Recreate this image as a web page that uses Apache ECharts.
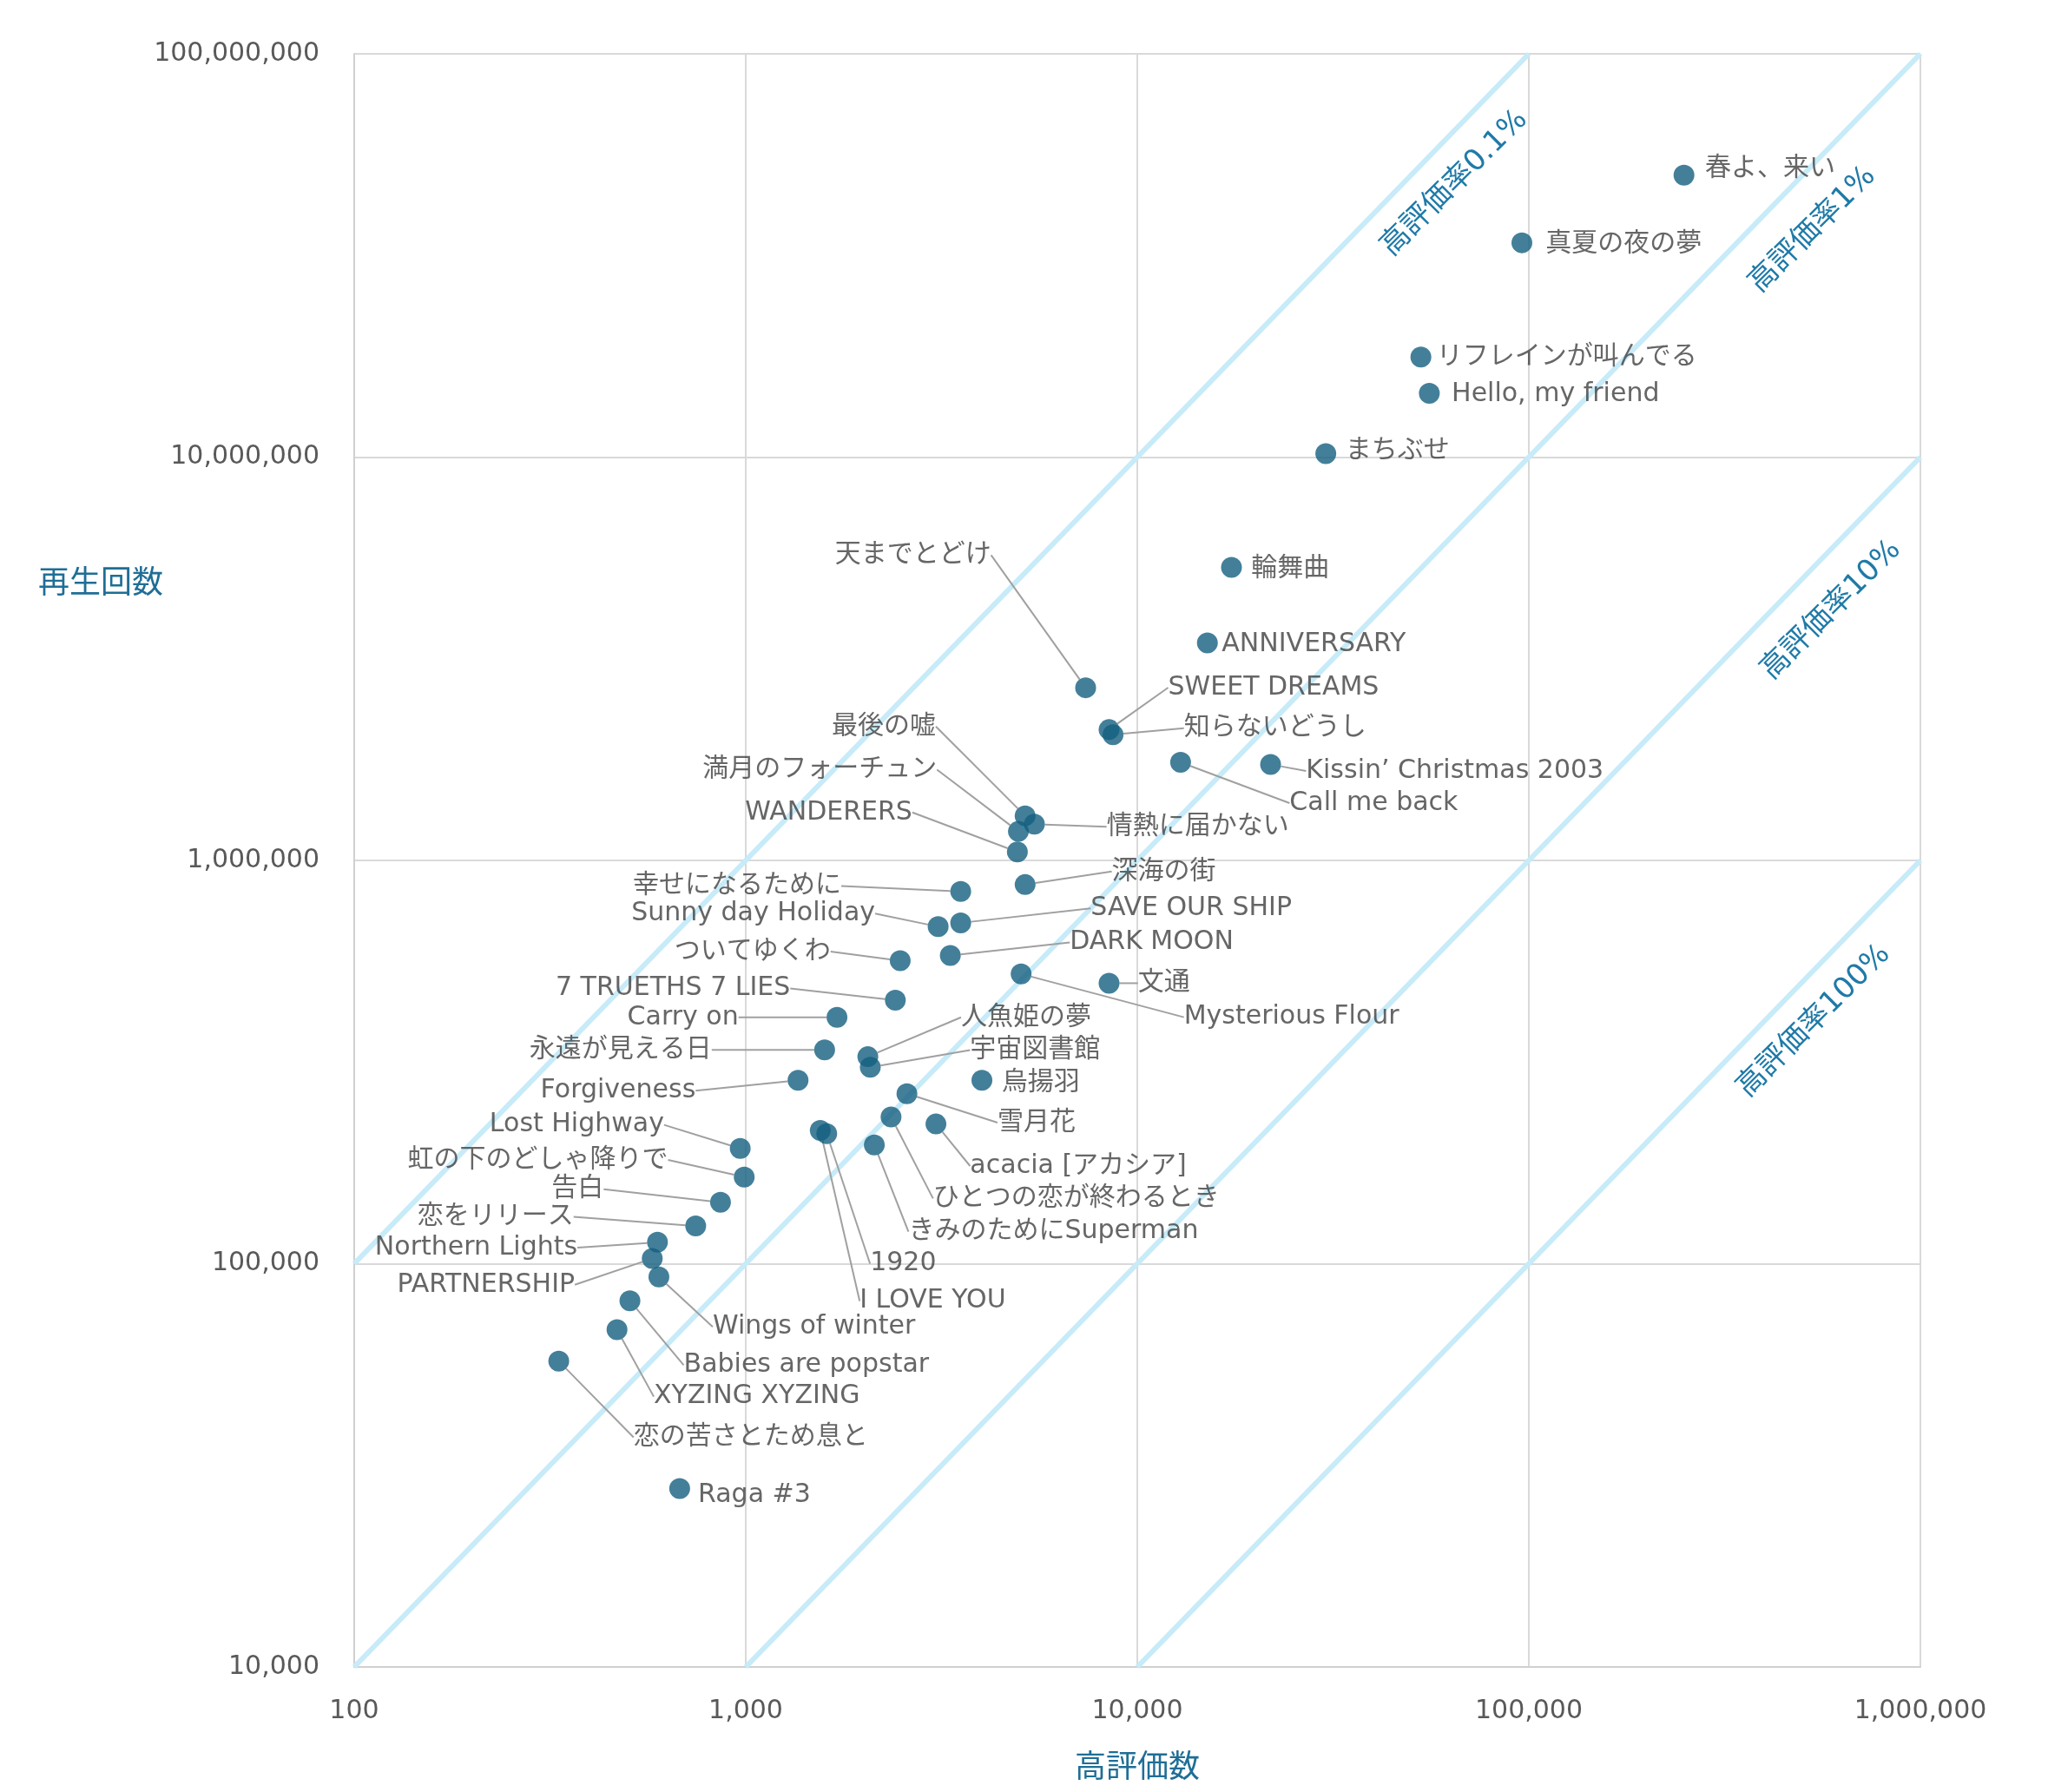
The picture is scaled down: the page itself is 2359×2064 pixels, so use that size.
<!DOCTYPE html>
<html><head><meta charset="utf-8">
<script src="https://cdn.jsdelivr.net/npm/echarts@6/dist/echarts.min.js"></script>
<style>html,body{margin:0;padding:0;background:#fff}#c{width:2359px;height:2064px}</style>
</head><body><div id="c"></div>
<script>
const songs = ["春よ、来い","真夏の夜の夢","リフレインが叫んでる","Hello, my friend","まちぶせ","輪舞曲","ANNIVERSARY","天までとどけ","SWEET DREAMS","知らないどうし","Call me back","Kissin’ Christmas 2003","最後の嘘","満月のフォーチュン","WANDERERS","情熱に届かない","深海の街","幸せになるために","SAVE OUR SHIP","Sunny day Holiday","ついてゆくわ","DARK MOON","Mysterious Flour","文通","7 TRUETHS 7 LIES","Carry on","人魚姫の夢","宇宙図書館","永遠が見える日","Forgiveness","烏揚羽","雪月花","acacia [アカシア]","ひとつの恋が終わるとき","きみのためにSuperman","1920","I LOVE YOU","Lost Highway","虹の下のどしゃ降りで","告白","恋をリリース","Northern Lights","PARTNERSHIP","Wings of winter","Babies are popstar","XYZING XYZING","恋の苦さとため息と","Raga #3"];
const likes = [249000,96000,53000,55700,30300,17400,15100,7380,8470,8670,12900,21900,5170,4970,4940,5460,5170,3540,3540,3100,2480,3330,5050,8470,2410,1710,2050,2080,1590,1360,4010,2580,3060,2350,2130,1610,1550,968,991,862,745,595,577,600,506,469,333,678];
const plays = [50000000,34000000,17700000,14400000,10200000,5330000,3460000,2680000,2110000,2050000,1750000,1730000,1290000,1180000,1050000,1230000,871000,838000,700000,685000,564000,581000,523000,496000,450000,408000,326000,307000,339000,285000,285000,264000,222000,231000,197000,210000,214000,193000,164000,142000,124000,113000,103000,92700,80900,68600,57300,27700];
const rateNames = ["高評価率0.1%","高評価率1%","高評価率10%","高評価率100%"];
const rateLines = [[[100,1e5],[1e5,1e8]],[[100,1e4],[1e6,1e8]],[[1000,1e4],[1e6,1e7]],[[1e4,1e4],[1e6,1e6]]];
const rateLabelAt = [[64600,47700000],[531000,36600000],[592000,4170000],[535000,399000]];
// label offsets (display px, later scaled) [dx, dy, align, line]
const labelOff = [[16,-5,'left',0],[18,1,'left',0],[12,0,'left',0],[17,1,'left',0],[15,-2,'left',0],[15,1,'left',0],[11,1,'left',0],
[-72,-101,'right',1],[45,-32,'left',1],[54,-5,'left',1],[83,31,'left',1],[27,5,'left',1],[-68,-68,'right',1],[-62,-47,'right',1],[-80,-30,'right',1],[55,2,'left',1],[66,-10,'left',1],[-91,-4,'right',1],[99,-11,'left',1],[-48,-10,'right',1],[-53,-7,'right',1],[91,-10,'left',1],[124,33,'left',1],[22,0,'left',1],[-80,-9,'right',1],[-75,0,'right',1],[71,-30,'left',1],[76,-13,'left',1],[-86,0,'right',1],[-78,8,'right',1],[15,2,'left',0],[69,22,'left',1],[26,32,'left',1],[32,62,'left',1],[26,66,'left',1],[33,99,'left',1],[30,130,'left',1],[-58,-18,'right',1],[-58,-13,'right',1],[-89,-10,'right',1],[-93,-7,'right',1],[-61,4,'right',1],[-59,20,'right',1],[41,38,'left',1],[41,49,'left',1],[28,51,'left',1],[57,58,'left',1],[14,5,'left',0]];
const S = 1.512;
const FONT = '"DejaVu Sans","Noto Sans CJK JP",sans-serif';
const chart = echarts.init(document.getElementById('c'));
const fmt = v => Number(v).toLocaleString('en-US');
const series = rateLines.map(d => ({type:'line',data:d,symbol:'none',silent:true,z:1,lineStyle:{color:'#c7ebf8',width:6}}));
series.push({
  type:'scatter', z:5, symbolSize:24, itemStyle:{color:'#145f80'},
  data: songs.map((n,i)=>({name:n,value:[likes[i],plays[i]],labelLine:{show:!!labelOff[i][3]}})),
  label:{show:true,formatter:p=>p.name,fontSize:30,color:'#404040',fontFamily:FONT},
  labelLine:{show:true,lineStyle:{color:'#a0a0a0',width:2}},
  labelLayout:p=>{const o=labelOff[p.dataIndex];const cx=p.rect.x+p.rect.width/2, cy=p.rect.y+p.rect.height/2;
    return {x:cx+o[0]*S,y:cy+o[1]*S,align:o[2],verticalAlign:'middle'};}
});
chart.setOption({
  animation:false,
  grid:{left:408,right:147,top:62,bottom:144},
  xAxis:{type:'log',min:100,max:1e6,logBase:10,name:'高評価数',nameLocation:'middle',nameGap:100,
    nameTextStyle:{fontSize:36,color:'#1f6e96',fontFamily:FONT},
    axisLine:{lineStyle:{color:'#d0d0d0',width:2}},axisTick:{show:false},
    axisLabel:{fontSize:30,color:'#595959',margin:36,formatter:fmt,fontFamily:FONT},
    splitLine:{show:true,lineStyle:{color:'#d9d9d9',width:2}},minorTick:{show:false}},
  yAxis:{type:'log',min:1e4,max:1e8,logBase:10,
    axisLine:{show:true,lineStyle:{color:'#d0d0d0',width:2}},axisTick:{show:false},
    axisLabel:{fontSize:30,color:'#595959',margin:40,formatter:fmt,fontFamily:FONT},
    splitLine:{show:true,lineStyle:{color:'#d9d9d9',width:2}}},
  series
});
const g = rateLabelAt.map((d,i)=>{const p=chart.convertToPixel({gridIndex:0},d);
  return {type:'text',x:p[0],y:p[1],rotation:Math.PI/4,z:10,
    style:{text:rateNames[i],fontSize:34,fill:'#1f7aa8',align:'center',verticalAlign:'middle',fontFamily:FONT}};});
g.push({type:'text',x:116,y:674,style:{text:'再生回数',fontSize:36,fill:'#1f6e96',align:'center',verticalAlign:'middle',fontFamily:FONT}});
chart.setOption({graphic:g});
</script></body></html>
